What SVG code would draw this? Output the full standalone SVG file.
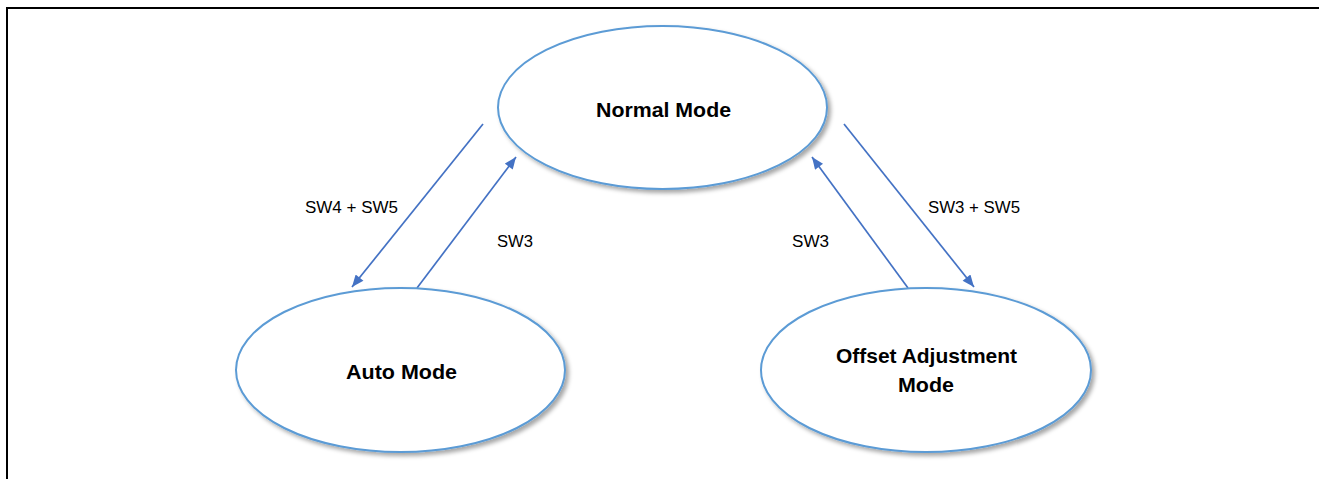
<svg xmlns="http://www.w3.org/2000/svg" width="1319" height="479" viewBox="0 0 1319 479">
<style>
.node{fill:#fff;stroke:#5b9bd5;stroke-width:2;filter:url(#sh)}
.nt{font-family:"Liberation Sans",Arial,sans-serif;font-weight:bold;font-size:21px;fill:#000;text-anchor:middle}
.lb{font-family:"Liberation Sans",Arial,sans-serif;font-size:16px;fill:#000;text-anchor:middle}
.cn{stroke:#4472c4;stroke-width:1.7;fill:none;marker-end:url(#ah)}
</style>
<defs>
<filter id="sh" x="-10%" y="-10%" width="125%" height="130%">
<feDropShadow dx="3" dy="3" stdDeviation="2" flood-color="#000" flood-opacity="0.35"/>
</filter>
<marker id="ah" viewBox="0 0 12 10" refX="12" refY="5" markerWidth="13" markerHeight="10" markerUnits="userSpaceOnUse" orient="auto">
<path d="M0,0 L12,5 L0,10 z" fill="#4472c4"/>
</marker>
</defs>
<rect width="1319" height="479" fill="#fff"/>
<g id="frame" stroke="#000" stroke-width="2" fill="none">
<line x1="6" y1="8" x2="1319" y2="8"/>
<line x1="7" y1="7" x2="7" y2="479"/>
</g>
<g id="connectors">
<line class="cn" x1="483" y1="124" x2="352" y2="287"/>
<line class="cn" x1="417" y1="288" x2="516" y2="157"/>
<line class="cn" x1="908" y1="288" x2="812" y2="157"/>
<line class="cn" x1="844" y1="124" x2="974" y2="287"/>
<text class="lb" x="351.5" y="213" textLength="93" lengthAdjust="spacingAndGlyphs">SW4 + SW5</text>
<text class="lb" x="515" y="247" textLength="36" lengthAdjust="spacingAndGlyphs">SW3</text>
<text class="lb" x="810.5" y="247" textLength="37" lengthAdjust="spacingAndGlyphs">SW3</text>
<text class="lb" x="974" y="213" textLength="92" lengthAdjust="spacingAndGlyphs">SW3 + SW5</text>
</g>
<g id="normal">
<ellipse class="node" cx="662.5" cy="107.5" rx="164.5" ry="81.5"/>
<text class="nt" x="663.5" y="117" textLength="135" lengthAdjust="spacingAndGlyphs">Normal Mode</text>
</g>
<g id="auto">
<ellipse class="node" cx="400.5" cy="370" rx="164.5" ry="82"/>
<text class="nt" x="401.5" y="379" textLength="111" lengthAdjust="spacingAndGlyphs">Auto Mode</text>
</g>
<g id="offset">
<ellipse class="node" cx="926" cy="370" rx="165" ry="82"/>
<text class="nt" x="926.5" y="363" textLength="181" lengthAdjust="spacingAndGlyphs">Offset Adjustment</text>
<text class="nt" x="926" y="392" textLength="56" lengthAdjust="spacingAndGlyphs">Mode</text>
</g>
</svg>
